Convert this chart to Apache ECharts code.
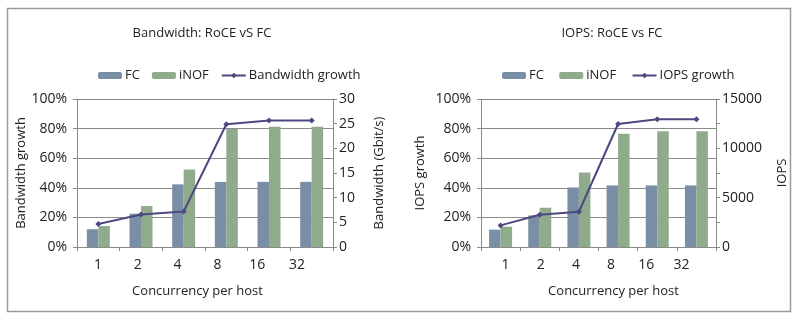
<!DOCTYPE html>
<html>
<head>
<meta charset="utf-8">
<script src="https://cdn.jsdelivr.net/npm/echarts@6/dist/echarts.min.js"></script>
<style>
html,body{margin:0;padding:0;background:#fff;}
#c{width:800px;height:322px;}
</style>
</head>
<body>
<div id="c"></div>
<script>
// ---- data ----
const categories = ['1', '2', '4', '8', '16', '32'];
const bwFC = [3.6, 6.75, 12.7, 13.2, 13.2, 13.2];
const bwINOF = [4.25, 8.3, 15.7, 23.9, 24.4, 24.4];
const bwGrowth = [15.5, 22, 24, 82.9, 85.4, 85.4];
const iopsFC = [1760, 3200, 6030, 6240, 6240, 6240];
const iopsINOF = [2060, 3980, 7550, 11470, 11730, 11730];
const iopsGrowth = [14.6, 21.8, 23.8, 83.1, 86.3, 86.3];
const pctTicks = [0, 20, 40, 60, 80, 100];

const FONT = 'Open Sans';
const TXT = '#222';
const AXC = '#8a8a8a';
const C_FC = '#7a8fa5';
const C_INOF = '#8fab8b';
const C_LINE = '#4d4880';

const chart = echarts.init(document.getElementById('c'), null, {renderer: 'canvas'});

function pctAxis(gridIndex, name, gap) {
  return {
    type: 'value', gridIndex, min: pctTicks[0], max: pctTicks[pctTicks.length - 1], interval: pctTicks[1] - pctTicks[0],
    position: 'left',
    name, nameLocation: 'middle', nameGap: gap,
    nameTextStyle: {fontFamily: FONT, fontSize: 13, color: TXT},
    axisLine: {show: true, lineStyle: {color: AXC, width: 1}},
    axisTick: {show: true, length: 4, lineStyle: {color: AXC}},
    axisLabel: {formatter: '{value}%', fontFamily: FONT, fontSize: 14, color: TXT, margin: 10},
    splitLine: {show: true, lineStyle: {color: AXC, width: 1}}
  };
}
function rightAxis(gridIndex, name, gap, max, interval, minor) {
  return {
    type: 'value', gridIndex, min: 0, max, interval,
    position: 'right',
    name, nameLocation: 'middle', nameGap: gap,
    nameTextStyle: {fontFamily: FONT, fontSize: 13, color: TXT},
    axisLine: {show: true, lineStyle: {color: AXC, width: 1}},
    axisTick: {show: true, length: 4, lineStyle: {color: AXC}},
    minorTick: {show: minor, splitNumber: 2, length: 4, lineStyle: {color: AXC}},
    axisLabel: {formatter: v => String(v), fontFamily: FONT, fontSize: 14, color: TXT, margin: 6},
    splitLine: {show: false}
  };
}
function catAxis(gridIndex) {
  return {
    type: 'category', gridIndex, data: categories,
    axisLine: {show: true, lineStyle: {color: AXC, width: 1}},
    axisTick: {show: true, length: 4, lineStyle: {color: AXC}},
    axisLabel: {show: false}
  };
}
function labelAxis(gridIndex, nameShift) {
  return {
    type: 'category', gridIndex, data: categories,
    axisLine: {show: false}, axisTick: {show: false},
    axisLabel: {fontFamily: FONT, fontSize: 14, color: TXT, margin: 11},
    name: 'Concurrency per host', nameLocation: 'middle', nameGap: 38,
    nameTextStyle: {fontFamily: FONT, fontSize: 13, color: TXT, padding: [0, 0, 0, nameShift]}
  };
}

const legendCommon = {
  top: 64, itemWidth: 24, itemHeight: 7, itemGap: 12,
  textStyle: {fontFamily: FONT, fontSize: 13, color: TXT, padding: [0, 0, 0, -2]}
};

const option = {
  animation: false,
  backgroundColor: '#fff',
  graphic: [{
    type: 'rect', shape: {x: 7.5, y: 8.5, width: 783, height: 303},
    style: {fill: 'none', stroke: '#9a9a9a', lineWidth: 1.5}, silent: true, z: -1
  }],
  title: [
    {text: 'Bandwidth: RoCE vS FC', left: 197, top: 22, textAlign: 'center',
     textStyle: {fontFamily: FONT, fontSize: 13, fontWeight: 'normal', color: TXT}},
    {text: 'IOPS: RoCE vs FC', left: 607, top: 22, textAlign: 'center',
     textStyle: {fontFamily: FONT, fontSize: 13, fontWeight: 'normal', color: TXT}}
  ],
  legend: [
    Object.assign({left: 93, data: [{name: 'FC'}, {name: 'iNOF'}, {name: 'Bandwidth growth'}]}, legendCommon),
    Object.assign({left: 497, data: [{name: 'FC '}, {name: 'iNOF '}, {name: 'IOPS growth'}]}, legendCommon)
  ],
  grid: [
    {left: 77, right: 467, top: 99, bottom: 75},
    {left: 481, right: 84, top: 99, bottom: 75},
    {left: 78, width: 239, top: 99, bottom: 75},
    {left: 488, width: 211, top: 99, bottom: 75}
  ],
  xAxis: [catAxis(0), catAxis(1), labelAxis(2, 0), labelAxis(3, 40)],
  yAxis: [
    pctAxis(0, 'Bandwidth growth', 48),
    rightAxis(0, 'Bandwidth (Gbit/s)', 40, 30, 5, false),
    pctAxis(1, 'IOPS growth', 54),
    rightAxis(1, 'IOPS', 60, 15000, 5000, true),
    {type: 'value', gridIndex: 2, show: false},
    {type: 'value', gridIndex: 3, show: false}
  ],
  series: [
    {name: 'FC', type: 'bar', xAxisIndex: 0, yAxisIndex: 1, data: bwFC, barWidth: 11.5, barGap: '0%',
     itemStyle: {color: C_FC}},
    {name: 'iNOF', type: 'bar', xAxisIndex: 0, yAxisIndex: 1, data: bwINOF, barWidth: 11.5, barGap: '0%',
     itemStyle: {color: C_INOF}},
    {name: 'Bandwidth growth', type: 'line', xAxisIndex: 0, yAxisIndex: 0, data: bwGrowth,
     symbol: 'diamond', symbolSize: 6, lineStyle: {color: C_LINE, width: 2}, itemStyle: {color: C_LINE}, z: 5},
    {name: 'FC ', type: 'bar', xAxisIndex: 1, yAxisIndex: 3, data: iopsFC, barWidth: 11.5, barGap: '0%',
     itemStyle: {color: C_FC}},
    {name: 'iNOF ', type: 'bar', xAxisIndex: 1, yAxisIndex: 3, data: iopsINOF, barWidth: 11.5, barGap: '0%',
     itemStyle: {color: C_INOF}},
    {name: 'IOPS growth', type: 'line', xAxisIndex: 1, yAxisIndex: 2, data: iopsGrowth,
     symbol: 'diamond', symbolSize: 6, lineStyle: {color: C_LINE, width: 2}, itemStyle: {color: C_LINE}, z: 5}
  ]
};
chart.setOption(option);
</script>
</body>
</html>
